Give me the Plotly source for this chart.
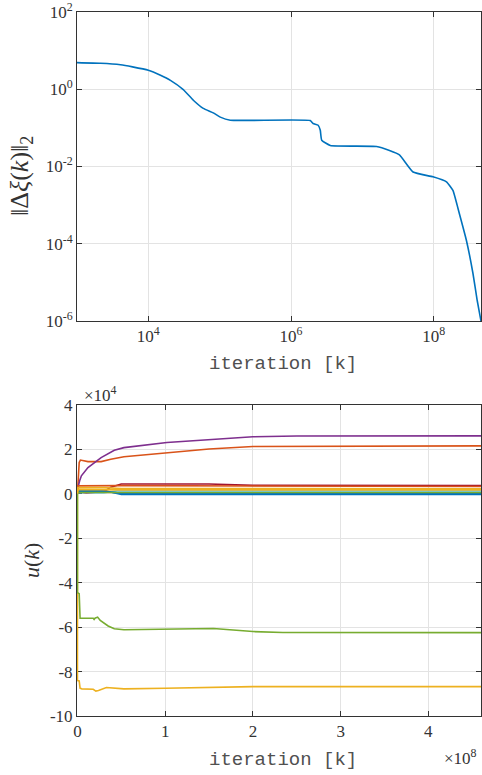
import numpy as np
import plotly.graph_objects as go

# ---------------- data: top panel (log-log convergence) ----------------
top_k = [1e3, 2.14e3, 4.07e3, 6.0e3, 1e4, 1.48e4, 2.04e4, 3.09e4, 4.27e4, 5.89e4, 8.13e4,
         1.02e5, 1.41e5, 1.86e6, 2.04e6, 2.4e6, 2.57e6, 2.69e6, 3.55e6, 1.58e7,
         2.4e7, 3.31e7, 5.13e7, 9.77e7, 1.51e8, 1.86e8, 2.13e8, 2.29e8, 2.88e8,
         3.55e8, 4.07e8, 4.6e8]
top_norm = [4.9, 4.7, 4.3, 3.8, 3.1, 2.3, 1.7, 0.98, 0.52, 0.32, 0.245,
            0.19, 0.158, 0.155, 0.13, 0.117, 0.087, 0.048, 0.035, 0.033,
            0.026, 0.020, 0.0072, 0.0054, 0.0040, 0.0024, 1.0e-3, 6.0e-4, 1.2e-4,
            1.7e-5, 3.4e-6, 1.0e-6]

# ---------------- data: bottom panel (inputs u(k)), x in 1e8, y in 1e4 ----------------
u1_x = [0, 0.005, 0.3, 0.4, 0.5, 4.6]
u1_y = [0, 0.15, 0.15, 0.05, -0.03, -0.03]

u2_x = [0, 0.01, 0.02, 0.034, 0.12, 0.27, 0.38, 0.53, 1.02, 1.5, 2.0, 4.6]
u2_y = [0, 0.8, 1.41, 1.52, 1.45, 1.45, 1.56, 1.67, 1.86, 2.02, 2.13, 2.16]

u3_x = [0, 0, 0.02, 0.03, 0.05, 0.18, 0.21, 0.24, 0.33, 0.53, 1.0, 2.0, 4.6]
u3_y = [0, -8.4, -8.42, -8.75, -8.78, -8.8, -8.88, -8.85, -8.72, -8.78, -8.75, -8.68, -8.68]

u4_x = [0, 0.01, 0.026, 0.045, 0.12, 0.27, 0.42, 0.53, 1.02, 1.5, 2.0, 2.5, 4.6]
u4_y = [0, 0.35, 0.6, 0.81, 1.18, 1.63, 1.96, 2.08, 2.31, 2.45, 2.57, 2.6, 2.61]

u5_x = [0, 0, 0.02, 0.03, 0.05, 0.18, 0.19, 0.20, 0.23, 0.26, 0.35, 0.42, 0.53, 1.0, 1.55, 2.0, 2.34, 4.6]
u5_y = [0, -4.45, -4.5, -5.6, -5.6, -5.6, -5.65, -5.6, -5.55, -5.7, -5.95, -6.07, -6.12, -6.1, -6.06, -6.2, -6.24, -6.25]

u6_x = [0, 0.005, 0.3, 0.45, 4.6]
u6_y = [0, 0.05, 0.05, 0.13, 0.13]

u7_x = [0, 0.005, 0.1, 0.3, 0.38, 0.5, 1.5, 2.0, 4.6]
u7_y = [0, 0.1, 0.05, 0.1, 0.3, 0.44, 0.44, 0.38, 0.37]

u8_x = [0, 0.005, 0.3, 0.5, 4.6]
u8_y = [0, 0.12, 0.12, 0.02, 0.02]

u9_x = [0, 0.005, 0.5, 1.5, 4.6]
u9_y = [0, 0.36, 0.37, 0.36, 0.33]

u10_x = [0, 0.005, 0.3, 0.5, 4.6]
u10_y = [0, 0.28, 0.28, 0.24, 0.23]

u12_x = [0, 0.005, 4.6]
u12_y = [0, 0.06, 0.06]

u13_x = [0, 0.005, 0.5, 4.6]
u13_y = [0, 0.2, 0.18, 0.18]

bottom_series = [
    (u1_x, u1_y, "#0072BD"),
    (u2_x, u2_y, "#D95319"),
    (u4_x, u4_y, "#7E2F8E"),
    (u6_x, u6_y, "#4DBEEE"),
    (u7_x, u7_y, "#A2142F"),
    (u8_x, u8_y, "#0072BD"),
    (u9_x, u9_y, "#D95319"),
    (u10_x, u10_y, "#EDB120"),
    (u12_x, u12_y, "#77AC30"),
    (u13_x, u13_y, "#EDB120"),
    (u3_x, u3_y, "#EDB120"),
    (u5_x, u5_y, "#77AC30"),
]

top_y_ticks = [1e-6, 1e-4, 1e-2, 1e0, 1e2]
top_y_labels = ["10<sup>-6</sup>", "10<sup>-4</sup>", "10<sup>-2</sup>", "10<sup>0</sup>", "10<sup>2</sup>"]
top_x_ticks = [1e4, 1e6, 1e8]
top_x_labels = ["10<sup>4</sup>", "10<sup>6</sup>", "10<sup>8</sup>"]
bot_x_ticks = [0, 1, 2, 3, 4]
bot_y_ticks = [-10, -8, -6, -4, -2, 0, 2, 4]

fig = go.Figure()
fig.add_trace(go.Scatter(x=top_k, y=top_norm, mode="lines",
                         line=dict(color="#0072BD", width=1.6, shape="spline", smoothing=0.4),
                         xaxis="x", yaxis="y", showlegend=False))
for xs, ys, col in bottom_series:
    fig.add_trace(go.Scatter(x=np.array(xs) * 1e8, y=np.array(ys) * 1e4, mode="lines",
                             line=dict(color=col, width=1.6),
                             xaxis="x2", yaxis="y2", showlegend=False))

SERIF = "Liberation Serif"
tick_font = dict(family=SERIF, size=17, color="#333333")
axcommon = dict(showline=True, linecolor="#333333", linewidth=1, mirror="ticks",
                ticks="inside", ticklen=5, tickcolor="#333333",
                showgrid=True, gridcolor="#e3e3e3", gridwidth=1, zeroline=False,
                tickfont=tick_font, layer="below traces", ticklabeloverflow="allow")

fig.update_layout(
    width=482, height=775,
    margin=dict(l=77, r=1, t=12, b=59),
    paper_bgcolor="white", plot_bgcolor="white",
    xaxis=dict(type="log", range=[3, np.log10(4.6e8)], domain=[0, 1], anchor="y",
               tickvals=top_x_ticks, ticktext=top_x_labels, **axcommon),
    yaxis=dict(type="log", range=[-6.0005, 2.0005], domain=[0.561, 1.0], anchor="x",
               tickvals=top_y_ticks, ticktext=top_y_labels, **axcommon),
    xaxis2=dict(range=[-0.005e8, 4.6e8], domain=[0, 1], anchor="y2",
                tickvals=[v * 1e8 for v in bot_x_ticks], ticktext=[str(v) for v in bot_x_ticks],
                **axcommon),
    yaxis2=dict(range=[-1.0001e5, 4.0001e4], domain=[0, 0.4418], anchor="x2",
                tickvals=[v * 1e4 for v in bot_y_ticks], ticktext=[str(v) for v in bot_y_ticks],
                **axcommon),
)

title_mono = dict(family="Liberation Mono", size=19, color="#505050")
ann = [
    dict(text="iteration [k]", x=0.51, y=(716 - 364) / 704, font=title_mono),
    dict(text="iteration [k]", x=0.51, y=(716 - 760) / 704, font=title_mono),
    dict(text="‖Δ<i>ξ</i>(<i>k</i>)‖<sub>2</sub>", x=(21 - 77) / 404, y=(716 - 176) / 704,
         textangle=-90, font=dict(family=SERIF, size=26, color="#333333")),
    dict(text="<i>u</i>(<i>k</i>)", x=(31 - 77) / 404, y=(716 - 561) / 704,
         textangle=-90, font=dict(family=SERIF, size=22, color="#333333")),
    dict(text="×10<sup>8</sup>", x=(460 - 77) / 404, y=(716 - 757) / 704,
         font=dict(family=SERIF, size=17, color="#333333")),
    dict(text="×10<sup>4</sup>", x=(100 - 77) / 404, y=(716 - 394) / 704,
         font=dict(family=SERIF, size=17, color="#333333")),
]
for a in ann:
    fig.add_annotation(xref="paper", yref="paper", showarrow=False,
                       xanchor="center", yanchor="middle", **a)

fig.write_html("out.html", config={"displayModeBar": False},
               post_script="document.body.style.margin='0';document.body.style.overflow='hidden';")
